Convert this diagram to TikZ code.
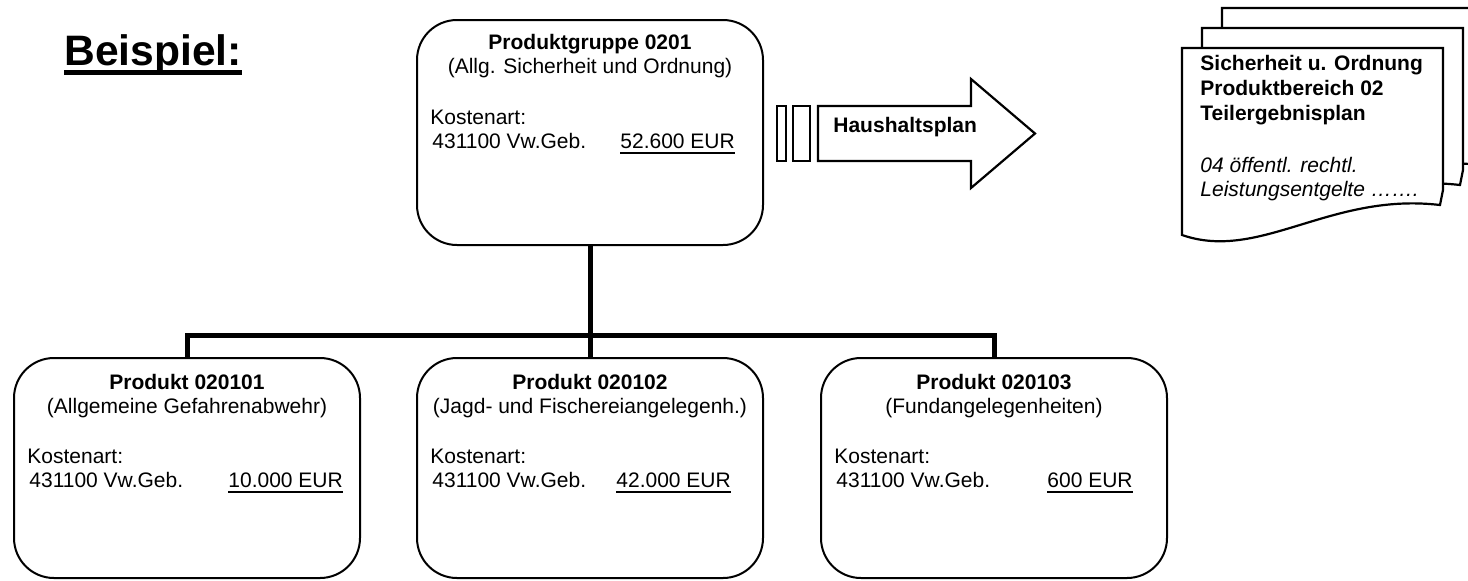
\documentclass[tikz,border=0pt]{standalone}
\usepackage{fontspec}
\setmainfont{Liberation Sans}
\newcommand{\unterstrichen}[3]{\vtop{\hbox{\raisebox{0pt}[\height][0pt]{#3}}\kern#2\hrule height#1}}
\begin{document}
\begin{tikzpicture}[x=0.5pt,y=-0.5pt,line join=miter,font=\fontsize{10.5}{12}\selectfont,
		kasten/.style={draw,line width=1pt,rounded corners=20pt,minimum width=173pt,inner sep=0pt},
		txt/.style={inner sep=0pt,anchor=base west,align=left},
		verbinder/.style={line width=2.5pt},
		pfeil/.style={draw,line width=1.1pt,fill=white},
		blatt/.style={draw,line width=1.1pt,fill=white}]
			\useasboundingbox (0,0) rectangle (1468,580);
			\node[txt] (bsp) at (64,65) {\fontsize{21.3}{24}\selectfont\bfseries\unterstrichen{2.5pt}{2.5pt}{Beispiel:}};
			
			% base = Grundlinie der letzten Zeile
			\node[kasten,minimum height=112.5pt] (pg) at (590,132.5) {};
			\node[txt,align=center,anchor=base] (pgt) at (590,73) {\textbf{Produktgruppe 0201}\\(Allg. Sicherheit und Ordnung)};
			\node[txt] (pgk) at (430,148) {Kostenart:\\\hspace{1pt}431100 Vw.Geb.};
			\node[txt] (pgb) at (620,148) {\unterstrichen{1pt}{2pt}{52.600 EUR}};
			
			\foreach \n/\x/\titel/\zusatz/\betrag/\bx in {p1/187/020101/(Allgemeine Gefahrenabwehr)/10.000/228,
				p2/590/020102/(Jagd- und Fischereiangelegenh.)/42.000/616,p3/994/020103/(Fundangelegenheiten)/600/1047}
			{
				\node[kasten,minimum height=110pt] (\n) at (\x,468) {};
				\node[txt,align=center,anchor=base] (\n t) at (\x,413) {\textbf{Produkt \titel}\\\zusatz};
				\node[txt] (\n k) at (\x-160,487) {Kostenart:\\\hspace{1pt}431100 Vw.Geb.};
				\node[txt] (\n b) at (\bx,487) {\unterstrichen{1pt}{2pt}{\betrag\ EUR}};
			}
			\coordinate (knoten) at (590,335);
			\draw[verbinder] (pg.south) -- (knoten);
			\draw[verbinder] (p1.north) |- (knoten) -| (p3.north);
			\draw[verbinder] (p2.north) -- (knoten);
			
			\draw[pfeil] (777,106) rectangle (786,161) (793,106) rectangle (810,161);
			\draw[pfeil] (818,106) -- (971,106) -- (971,79) -- (1035,133.5) -- (971,188) -- (971,161) -- (818,161) -- cycle;
			\node[txt] (hp) at (833,132) {\textbf{Haushaltsplan}};
			
			\foreach \d in {40,20,0}
				\draw[blatt,shift={(\d,-\d)}] (1182,235) -- (1182,48) -- (1443,48) -- (1443,190) -- (1440,205)
					.. controls (1330,192) and (1260,262) .. cycle;
			\node[txt] (dok) at (1200,196) {\textbf{Sicherheit u. Ordnung}\\[0.5pt]\textbf{Produktbereich 02}\\[0.5pt]
				\textbf{Teilergebnisplan}\\[14pt]\textit{04 öffentl. rechtl.}\\\textit{Leistungsentgelte …….}};
		\end{tikzpicture}
\end{document}
